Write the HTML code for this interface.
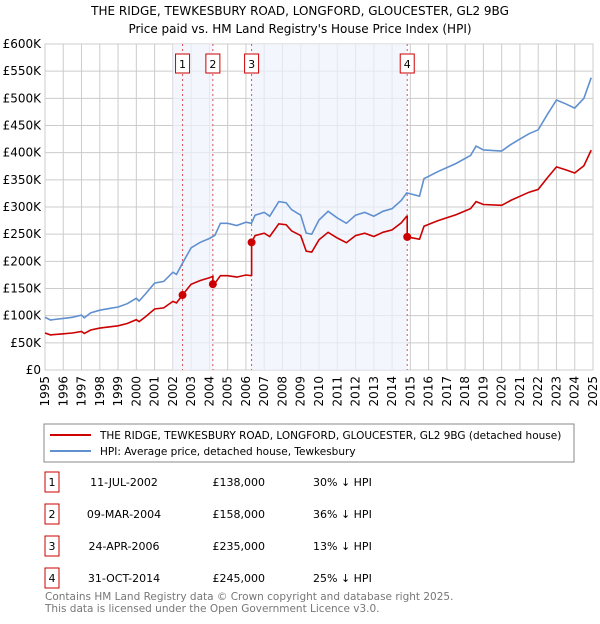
<!DOCTYPE html>
<html><head><meta charset="utf-8"><style>
body{margin:0;background:#fff;font-family:"DejaVu Sans","Liberation Sans",sans-serif;}
svg text{font-family:"DejaVu Sans","Liberation Sans",sans-serif;}
</style></head><body>
<svg id="c" width="600" height="620" xmlns="http://www.w3.org/2000/svg">
<text x="300" y="15" text-anchor="middle" font-size="12">THE RIDGE, TEWKESBURY ROAD, LONGFORD, GLOUCESTER, GL2 9BG</text>
<text x="300" y="33" text-anchor="middle" font-size="12">Price paid vs. HM Land Registry's House Price Index (HPI)</text>
<g id="grid"></g><g id="bands"></g><g id="lines"></g><g id="marks"></g>
<rect x="44" y="424" width="530" height="38" fill="#fff" stroke="#888"/>
<line x1="50" y1="435" x2="91" y2="435" stroke="#cc0000" stroke-width="2"/>
<text x="100" y="439" font-size="10.5">THE RIDGE, TEWKESBURY ROAD, LONGFORD, GLOUCESTER, GL2 9BG (detached house)</text>
<line x1="50" y1="451" x2="91" y2="451" stroke="#6090d0" stroke-width="2"/>
<text x="100" y="455" font-size="10.5">HPI: Average price, detached house, Tewkesbury</text>
<g id="table"></g>
<text x="45" y="600" font-size="10.5" fill="#777">Contains HM Land Registry data © Crown copyright and database right 2025.</text>
<text x="45" y="612" font-size="10.5" fill="#777">This data is licensed under the Open Government Licence v3.0.</text>
</svg>
<script>
const hpiDates=[1995,1995.3,1995.5,1996,1996.5,1997,1997.15,1997.5,1998,1998.5,1999,1999.5,2000,2000.15,2000.5,2001,2001.5,2002,2002.2,2002.5,2003,2003.5,2004,2004.3,2004.6,2005,2005.5,2006,2006.3,2006.5,2007,2007.3,2007.8,2008.2,2008.5,2009,2009.3,2009.6,2010,2010.5,2011,2011.5,2012,2012.5,2013,2013.5,2014,2014.5,2014.8,2015.5,2015.75,2016.5,2017.5,2018.3,2018.6,2019,2020,2020.5,2021,2021.5,2022,2022.5,2023,2023.5,2024,2024.5,2024.9];
const hpiValues=[97,92,93,95,97,101,96,105,110,113,116,122,132,127,140,160,163,180,176,195,225,235,242,248,270,270,266,272,270,285,290,283,310,308,295,285,252,250,276,292,280,270,285,290,283,292,297,312,326,320,352,365,380,395,412,405,403,415,425,435,442,470,497,490,482,500,538];
const saleDates=[2002.53,2004.19,2006.31,2014.83];
const salePrices=[138,158,235,245];
const saleLabels=["1","2","3","4"];
const saleDateText=["11-JUL-2002","09-MAR-2004","24-APR-2006","31-OCT-2014"];
const salePriceText=["£138,000","£158,000","£235,000","£245,000"];
const saleDiffText=["30% ↓ HPI","36% ↓ HPI","13% ↓ HPI","25% ↓ HPI"];
const yTicks=[0,50,100,150,200,250,300,350,400,450,500,550,600];
const yTickLabels=["£0","£50K","£100K","£150K","£200K","£250K","£300K","£350K","£400K","£450K","£500K","£550K","£600K"];
const xYears=[1995,1996,1997,1998,1999,2000,2001,2002,2003,2004,2005,2006,2007,2008,2009,2010,2011,2012,2013,2014,2015,2016,2017,2018,2019,2020,2021,2022,2023,2024,2025];
const bands=[[2002.0,2004.2],[2006.25,2014.83]];

const NS="http://www.w3.org/2000/svg";
const X0=45,X1=593,Y0=370,Y1=44;
const x=t=>X0+(t-1995)/30*(X1-X0);
const y=v=>Y0-v/600*(Y0-Y1);
function mk(tag,parent,attrs){const e=document.createElementNS(NS,tag);for(const k in attrs)e.setAttribute(k,attrs[k]);document.getElementById(parent).appendChild(e);return e;}
function hpiAt(t){for(let i=1;i<hpiDates.length;i++){if(t<=hpiDates[i]){const f=(t-hpiDates[i-1])/(hpiDates[i]-hpiDates[i-1]);return hpiValues[i-1]+f*(hpiValues[i]-hpiValues[i-1]);}}return hpiValues[hpiValues.length-1];}

mk('rect','grid',{x:X0,y:Y1,width:X1-X0,height:Y0-Y1,fill:'#fff',stroke:'#ccc'});
bands.forEach((b,i)=>{const r=mk('rect','bands',{x:x(b[0]),y:Y1,width:x(b[1])-x(b[0]),height:Y0-Y1,fill:'#eef3fc',opacity:0.7});

});
yTicks.forEach((v,i)=>{const l=mk('line','grid',{x1:X0,x2:X1,y1:y(v),y2:y(v),stroke:'#ccc'});


const t=mk('text','grid',{x:X0-4,y:y(v)+4,'text-anchor':'end','font-size':12});t.textContent=yTickLabels[i];

});
xYears.forEach(yr=>{const l=mk('line','grid',{x1:x(yr),x2:x(yr),y1:Y1,y2:Y0,stroke:'#ccc'});


const t=mk('text','grid',{x:0,y:0,'text-anchor':'end','font-size':12,transform:`translate(${x(yr)+4},${Y0+6}) rotate(-90)`});t.textContent=yr;

});
// sale vlines + labels
saleDates.forEach((d,i)=>{const l=mk('line','bands',{x1:x(d),x2:x(d),y1:Y1,y2:Y0,stroke:'#e05050','stroke-dasharray':'2,3'});


const r=mk('rect','marks',{x:x(d)-7,y:54,width:14,height:19,fill:'#fff',stroke:'#cc0000'});


const t=mk('text','marks',{x:x(d),y:68,'text-anchor':'middle','font-size':11});t.textContent=saleLabels[i];

});
// HPI line
const hp=hpiDates.map((d,i)=>x(d).toFixed(1)+','+y(hpiValues[i]).toFixed(1)).join(' ');
const hl=mk('polyline','lines',{points:hp,fill:'none',stroke:'#6090d0','stroke-width':1.6});


// property line: HPI scaled by last sale ratio
const ratios=saleDates.map((d,i)=>salePrices[i]/hpiAt(d));
const pts=[];
function ratioAt(t){let r=ratios[0];saleDates.forEach((d,i)=>{if(t>=d)r=ratios[i];});return r;}
const allT=hpiDates.slice();saleDates.forEach(d=>{allT.push(d-0.001);allT.push(d);});allT.sort((a,b)=>a-b);
allT.forEach(t=>pts.push(x(t).toFixed(1)+','+y(hpiAt(t)*ratioAt(t)).toFixed(1)));
const pl=mk('polyline','lines',{points:pts.join(' '),fill:'none',stroke:'#cc0000','stroke-width':1.6});


saleDates.forEach((d,i)=>{const c=mk('circle','marks',{cx:x(d),cy:y(salePrices[i]),r:4,fill:'#cc0000'});

});
// table
saleLabels.forEach((s,i)=>{const yy=482+i*32;
const r=mk('rect','table',{x:45,y:yy-10,width:14,height:20,fill:'#fff',stroke:'#cc0000'});


const a=mk('text','table',{x:52,y:yy+4,'text-anchor':'middle','font-size':11});a.textContent=s;


const b=mk('text','table',{x:124,y:yy+4,'text-anchor':'middle','font-size':11});b.textContent=saleDateText[i];


const c=mk('text','table',{x:265,y:yy+4,'text-anchor':'end','font-size':11});c.textContent=salePriceText[i];


const e=mk('text','table',{x:313,y:yy+4,'font-size':11});e.textContent=saleDiffText[i];

});
</script>
</body></html>
